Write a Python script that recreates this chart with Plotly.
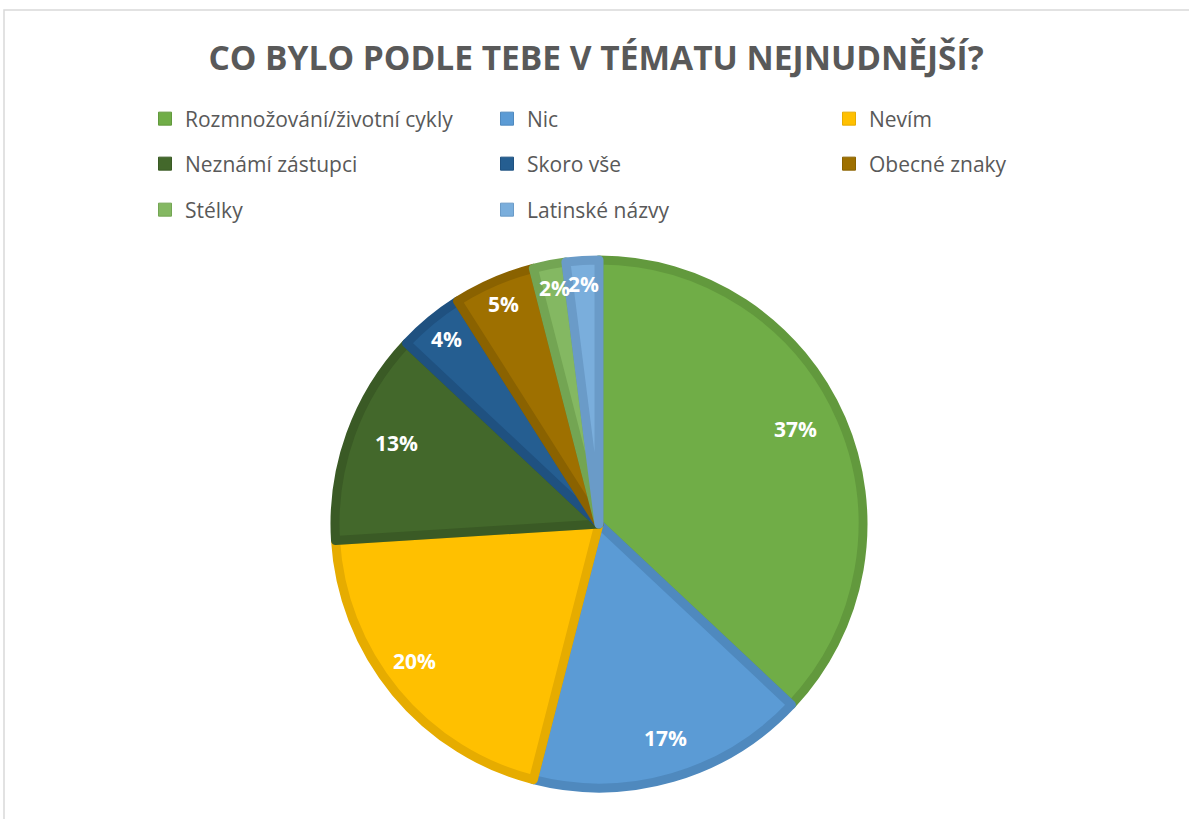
import math
import plotly.graph_objects as go

categories = ["Rozmnožování/životní cykly", "Nic", "Nevím", "Neznámí zástupci",
              "Skoro vše", "Obecné znaky", "Stélky", "Latinské názvy"]
values = [37, 17, 20, 13, 4, 5, 2, 2]
fill_colors = ["#70AD47", "#5B9BD5", "#FFC000", "#43682B",
               "#255E91", "#9E7000", "#84B862", "#7AAEDC"]
line_colors = ["#62993D", "#4F89BE", "#E6AC00", "#3A5A25",
               "#1F5180", "#8A6200", "#73A553", "#6A9BC8"]
legend_rows = [1, 1, 1, 2, 2, 2, 3, 3]

W, H = 1189, 819
cx, cy, R = 599, 524, 264        # pie centre / radius in px
label_r = 240                    # radius at which percentage labels sit
legend_row_y = {1: 119, 2: 164, 3: 210}
legend_left = 145

fig = go.Figure()
fig.add_trace(go.Pie(
    labels=categories,
    values=values,
    sort=False,
    direction="clockwise",
    rotation=0,
    marker=dict(colors=fill_colors, line=dict(color=line_colors, width=9)),
    textinfo="none",
    showlegend=False,
    domain=dict(x=[(cx - R) / W, (cx + R) / W], y=[1 - (cy + R) / H, 1 - (cy - R) / H]),
    hoverinfo="label+percent",
))

# legend entries (one per category), split across three rows
for cat, fc, lc, row in zip(categories, fill_colors, line_colors, legend_rows):
    fig.add_trace(go.Scatter(
        x=[None], y=[None], mode="markers", name=cat, showlegend=True,
        marker=dict(symbol="square", size=13, color=fc, line=dict(color=lc, width=1)),
        legend="legend" if row == 1 else f"legend{row}", hoverinfo="skip",
    ))

# percentage labels placed at the middle angle of each slice
total = sum(values)
annotations = []
cum = 0
for v in values:
    mid = (cum + v / 2) / total * 2 * math.pi
    cum += v
    px = cx + label_r * math.sin(mid)
    py = cy - label_r * math.cos(mid)
    annotations.append(dict(
        x=px / W, y=1 - py / H, xref="paper", yref="paper",
        text=f"{round(100 * v / total)}%", showarrow=False,
        font=dict(family="Open Sans", size=21, color="white", weight="bold"),
    ))

legend_common = dict(orientation="h", xanchor="left", yanchor="middle",
                     entrywidth=297, entrywidthmode="pixels",
                     font=dict(family="Open Sans", size=21, color="#595959"),
                     itemwidth=30, bgcolor="rgba(0,0,0,0)", traceorder="normal",
                     itemclick=False, itemdoubleclick=False)

fig.update_layout(
    width=W, height=H,
    margin=dict(l=0, r=0, t=0, b=0),
    paper_bgcolor="white",
    plot_bgcolor="white",
    showlegend=True,
    xaxis=dict(visible=False),
    yaxis=dict(visible=False),
    title=dict(text="CO BYLO PODLE TEBE V TÉMATU NEJNUDNĚJŠÍ?",
               x=596 / W, xanchor="center", y=1 - 58 / H, yanchor="middle",
               font=dict(family="Open Sans", size=33.5, color="#595959", weight="bold")),
    legend=dict(x=legend_left / W, y=1 - legend_row_y[1] / H, **legend_common),
    legend2=dict(x=legend_left / W, y=1 - legend_row_y[2] / H, **legend_common),
    legend3=dict(x=legend_left / W, y=1 - legend_row_y[3] / H, **legend_common),
    annotations=annotations,
    shapes=[dict(type="rect", xref="paper", yref="paper",
                 x0=4 / W, x1=1.02, y0=-0.02, y1=1 - 10 / H,
                 line=dict(color="#D9D9D9", width=1.5), fillcolor="rgba(0,0,0,0)")],
)

fig.write_html("out.html", config={"displayModeBar": False},
               post_script="document.body.style.margin='0';document.body.style.overflow='hidden';")
